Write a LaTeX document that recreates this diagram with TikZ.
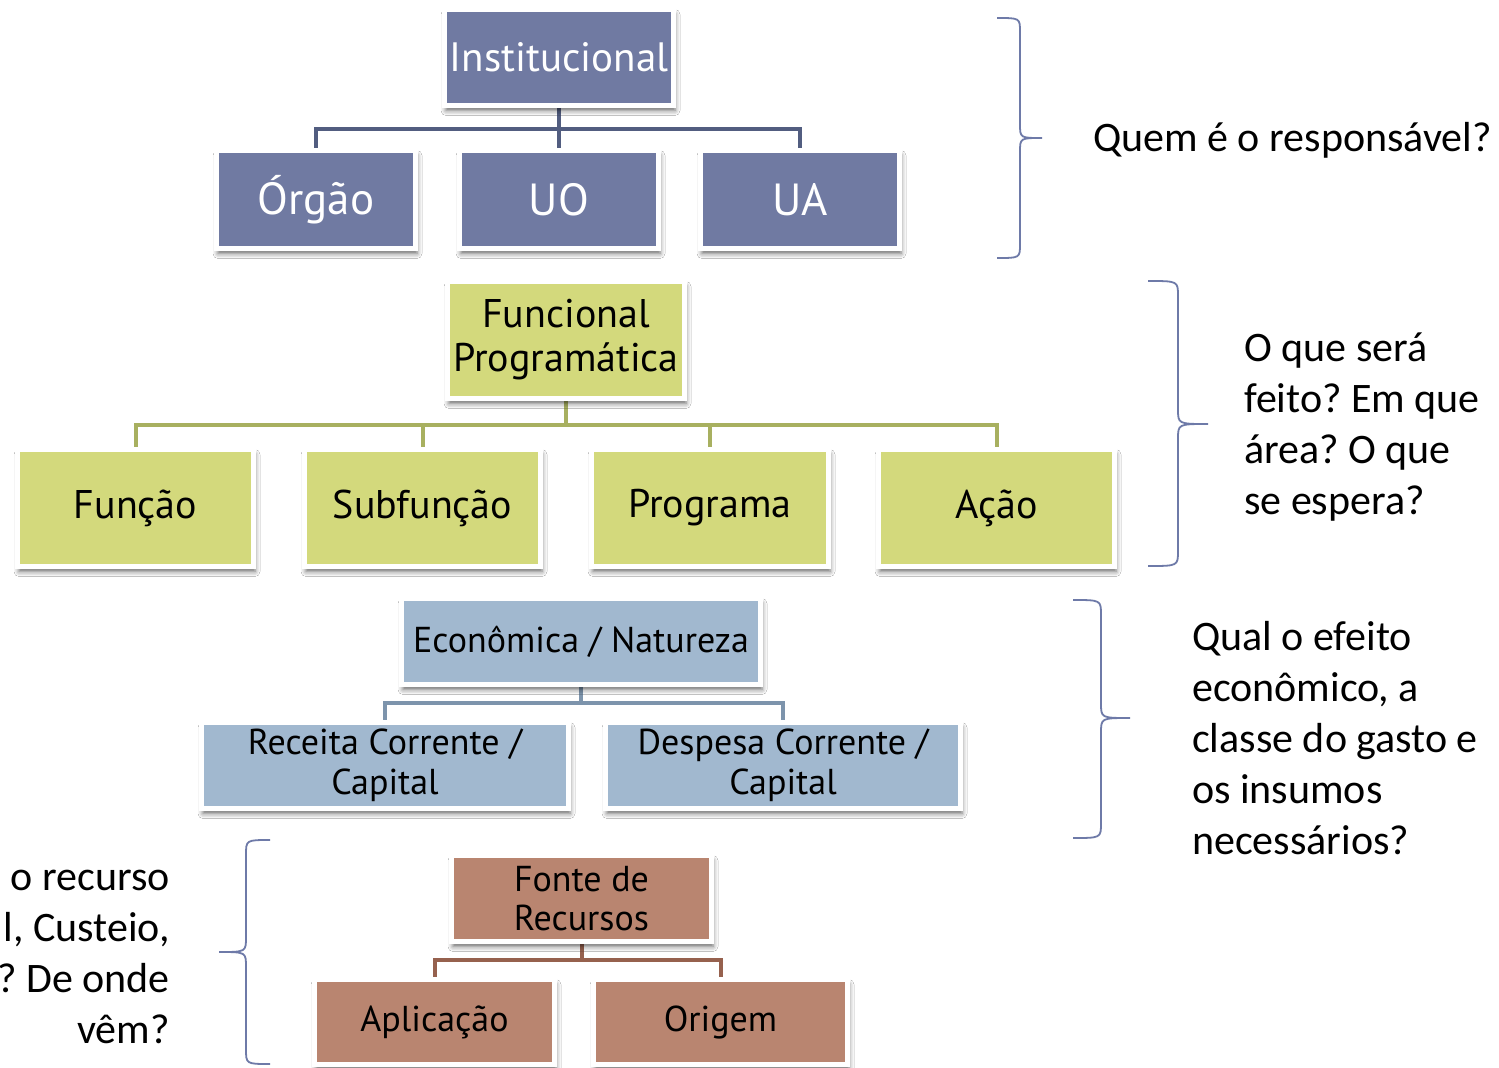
\documentclass[tikz,border=0pt]{standalone}
\usepackage{fontspec}
\setmainfont{PT Sans}
\newfontfamily\calib{Carlito}
\frenchspacing
\usetikzlibrary{shadows.blur,backgrounds}
\definecolor{instblue}{RGB}{112,122,162}
\definecolor{instline}{RGB}{82,93,128}
\definecolor{fgreen}{RGB}{211,217,124}
\definecolor{fline}{RGB}{168,176,96}
\definecolor{ecoblue}{RGB}{161,184,207}
\definecolor{ecoline}{RGB}{125,148,172}
\definecolor{brn}{RGB}{185,133,112}
\definecolor{brline}{RGB}{150,97,78}
\definecolor{bracec}{RGB}{110,122,168}
\tikzset{
  box/.style={draw=white, line width=5pt, inner sep=0pt, align=center,
    blur shadow={shadow xshift=1.5pt, shadow yshift=-5pt, shadow blur radius=5pt, shadow opacity=60}},
  conn/.style={line width=4pt},
  bracepath/.style={draw=bracec, line width=1.8pt},
  sidetext/.style={inner sep=0pt, font=\calib\fontsize{42}{51}\selectfont}
}
\begin{document}
\begin{tikzpicture}[x=1pt,y=-1pt]
\useasboundingbox (0,0) rectangle (1499,1068);

% Institucional
\node[box, fill=instblue, text=white, minimum width=229, minimum height=96, font=\fontsize{41}{46}\selectfont] (inst) at (559,57.5) {Institucional};
\node[box, fill=instblue, text=white, minimum width=199, minimum height=98, font=\fontsize{45}{50}\selectfont] (orgao) at (316,199.5) {Órgão};
\node[box, fill=instblue, text=white, minimum width=199, minimum height=98, font=\fontsize{45}{50}\selectfont] (uo) at (559,199.5) {UO};
\node[box, fill=instblue, text=white, minimum width=199, minimum height=98, font=\fontsize{45}{50}\selectfont] (ua) at (800,199.5) {UA};
\coordinate (b1) at (559,129);

% Funcional
\node[box, fill=fgreen, minimum width=237, minimum height=117, font=\fontsize{40}{44}\selectfont] (func) at (566,340) {Funcional\\Programática};
\node[box, fill=fgreen, minimum width=236, minimum height=117, font=\fontsize{40}{44}\selectfont] (funcao) at (135.5,508) {Função};
\node[box, fill=fgreen, minimum width=236, minimum height=117, font=\fontsize{40}{44}\selectfont] (subf) at (422.5,508) {Subfunção};
\node[box, fill=fgreen, minimum width=237, minimum height=117, font=\fontsize{40}{44}\selectfont] (prog) at (710,508) {Programa};
\node[box, fill=fgreen, minimum width=236, minimum height=117, font=\fontsize{40}{44}\selectfont] (acao) at (996.5,508) {Ação};
\coordinate (b2) at (566,425);

% Economica
\node[box, fill=ecoblue, minimum width=359, minimum height=86, font=\fontsize{36}{40}\selectfont] (eco) at (581,641.5) {Econômica / Natureza};
\node[box, fill=ecoblue, minimum width=367, minimum height=86, font=\fontsize{36}{40}\selectfont] (rec) at (385,765.5) {Receita Corrente /\\Capital};
\node[box, fill=ecoblue, minimum width=355, minimum height=86, font=\fontsize{36}{40}\selectfont] (desp) at (783,765.5) {Despesa Corrente /\\Capital};
\coordinate (b3) at (581,703);

% Fonte
\node[box, fill=brn, minimum width=260, minimum height=86, font=\fontsize{36}{39}\selectfont] (fonte) at (581.5,898.5) {Fonte de\\Recursos};
\node[box, fill=brn, minimum width=240, minimum height=85, font=\fontsize{36}{40}\selectfont] (aplic) at (434.5,1022) {Aplicação};
\node[box, fill=brn, minimum width=254, minimum height=85, font=\fontsize{36}{40}\selectfont] (orig) at (720.5,1022) {Origem};
\coordinate (b4) at (581.5,960);

\begin{pgfonlayer}{background}
\fill[white] (0,0) rectangle (1499,1068);
\draw[conn, instline] (inst.south) -- (b1);
\draw[conn, instline] (orgao.north) -- (orgao.north |- b1) -- (ua.north |- b1) -- (ua.north);
\draw[conn, instline] (uo.north) -- (uo.north |- b1);
\draw[conn, fline] (func.south) -- (b2);
\draw[conn, fline] (funcao.north) -- (funcao.north |- b2) -- (acao.north |- b2) -- (acao.north);
\draw[conn, fline] (subf.north) -- (subf.north |- b2);
\draw[conn, fline] (prog.north) -- (prog.north |- b2);
\draw[conn, ecoline] (eco.south) -- (b3);
\draw[conn, ecoline] (rec.north) -- (rec.north |- b3) -- (desp.north |- b3) -- (desp.north);
\draw[conn, brline] (fonte.south) -- (b4);
\draw[conn, brline] (aplic.north) -- (aplic.north |- b4) -- (orig.north |- b4) -- (orig.north);
\end{pgfonlayer}

% Braces
\draw[bracepath] (997,18) .. controls (1020,18) .. (1020,32) -- (1020,124) .. controls (1020,138) .. (1042,138)
  .. controls (1020,138) .. (1020,152) -- (1020,244) .. controls (1020,258) .. (997,258);
\draw[bracepath] (1148,281) .. controls (1178,281) .. (1178,296) -- (1178,409) .. controls (1178,424) .. (1208,424)
  .. controls (1178,424) .. (1178,439) -- (1178,551) .. controls (1178,566) .. (1148,566);
\draw[bracepath] (1073,600) .. controls (1101,600) .. (1101,615) -- (1101,703) .. controls (1101,718) .. (1130,718)
  .. controls (1101,718) .. (1101,733) -- (1101,823) .. controls (1101,838) .. (1073,838);
\draw[bracepath] (270,840) .. controls (246,840) .. (246,855) -- (246,937) .. controls (246,952) .. (219,952)
  .. controls (246,952) .. (246,967) -- (246,1049) .. controls (246,1064) .. (270,1064);

% Side texts
\node[sidetext, anchor=west] (q1) at (1093,140) {Quem é o responsável?};
\node[sidetext, anchor=west, align=left] (q2) at (1244,427) {O que será\\feito? Em que\\área? O que\\se espera?};
\node[sidetext, anchor=west, align=left] (q3) at (1192,738) {Qual o efeito\\econômico, a\\classe do gasto e\\os insumos\\necessários?};
\node[sidetext, anchor=east, align=right] (q4) at (170,957) {o recurso\\l, Custeio,\\? De onde\\vêm?};
\end{tikzpicture}
\end{document}
